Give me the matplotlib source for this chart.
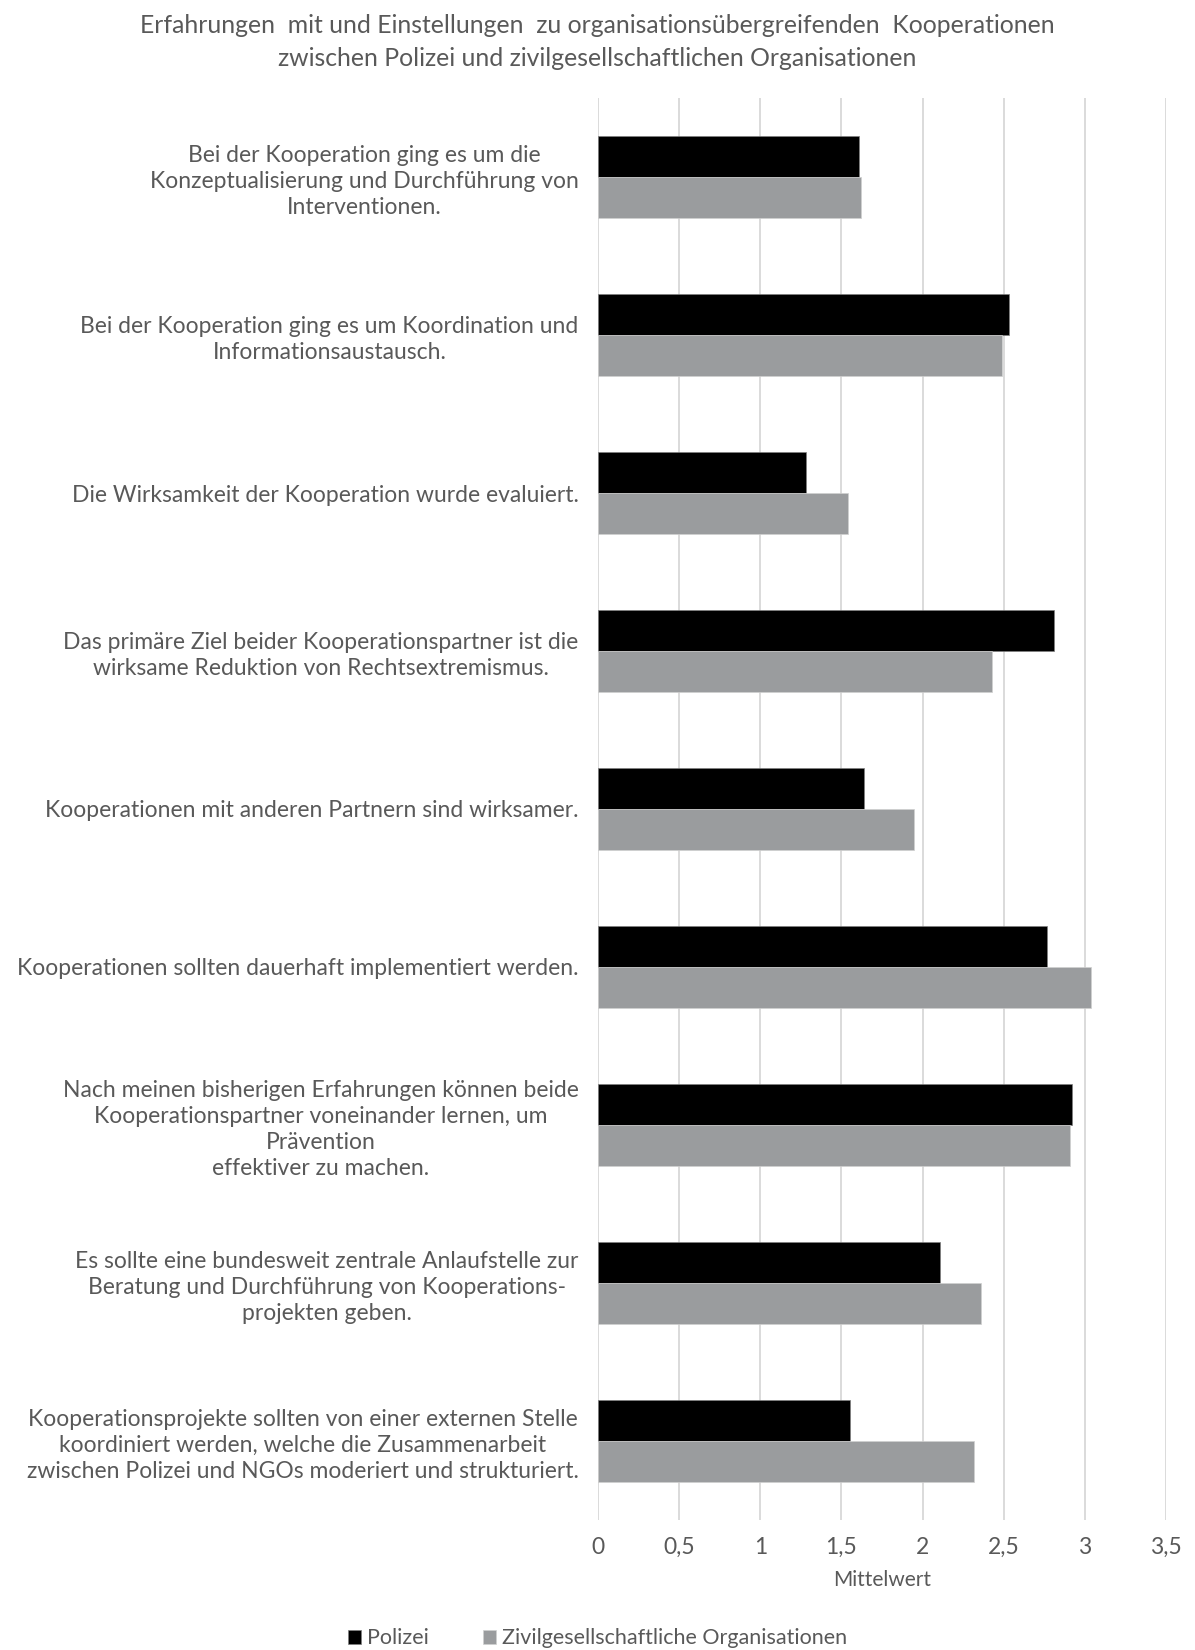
import matplotlib
matplotlib.use('Agg')
import matplotlib.pyplot as plt
import numpy as np

plt.rcParams['font.family'] = ['Lato', 'DejaVu Sans']
plt.rcParams['font.weight'] = 'normal'

categories = [
    'Bei der Kooperation ging es um die\nKonzeptualisierung und Durchführung von\nInterventionen.',
    'Bei der Kooperation ging es um Koordination und\nInformationsaustausch.',
    'Die Wirksamkeit der Kooperation wurde evaluiert.',
    'Das primäre Ziel beider Kooperationspartner ist die\nwirksame Reduktion von Rechtsextremismus.',
    'Kooperationen mit anderen Partnern sind wirksamer.',
    'Kooperationen sollten dauerhaft implementiert werden.',
    'Nach meinen bisherigen Erfahrungen können beide\nKooperationspartner voneinander lernen, um\nPrävention\neffektiver zu machen.',
    'Es sollte eine bundesweit zentrale Anlaufstelle zur\nBeratung und Durchführung von Kooperations-\nprojekten geben.',
    'Kooperationsprojekte sollten von einer externen Stelle\nkoordiniert werden, welche die Zusammenarbeit\nzwischen Polizei und NGOs moderiert und strukturiert.',
]
polizei = [1.61, 2.53, 1.28, 2.81, 1.64, 2.77, 2.92, 2.11, 1.55]
zivil = [1.62, 2.49, 1.54, 2.43, 1.95, 3.04, 2.91, 2.36, 2.32]
xticks = [0, 0.5, 1, 1.5, 2, 2.5, 3, 3.5]
xticklabels = ['0', '0,5', '1', '1,5', '2', '2,5', '3', '3,5']

txt = '#595959'
fig = plt.figure(figsize=(11.95, 16.5), dpi=100)
ax = fig.add_axes([0.5004, 0.0788, 0.4753, 0.8618])

y = np.arange(len(categories))
h = 0.26
ax.barh(y - h / 2, polizei, height=h, color='#000000', edgecolor='#7f7f7f', linewidth=0.5, label='Polizei', zorder=3)
ax.barh(y + h / 2, zivil, height=h, color='#9a9c9e', edgecolor='#d0d0d0', linewidth=0.5,
        label='Zivilgesellschaftliche Organisationen', zorder=3)

ax.set_ylim(len(categories) - 0.5, -0.5)
ax.set_xlim(0, 3.5)
ax.set_xticks(xticks)
ax.set_xticklabels(xticklabels)
ax.set_yticks(y)
ax.set_yticklabels(categories, ha='right', multialignment='center')
ax.tick_params(axis='y', length=0, pad=14, labelsize=16.5, labelcolor=txt)
ax.tick_params(axis='x', length=0, pad=12, labelsize=16.5, labelcolor=txt)
for lab in ax.get_yticklabels():
    lab.set_linespacing(1.3)
ax.grid(axis='x', color='#d4d4d4', linewidth=1.2, zorder=0)
for s in ax.spines.values():
    s.set_visible(False)
ax.set_xlabel('Mittelwert', fontsize=15, color=txt, labelpad=9)

fig.text(0.5, 0.9848, 'Erfahrungen  mit und Einstellungen  zu organisationsübergreifenden  Kooperationen',
         ha='center', va='center', fontsize=17.8, color=txt)
fig.text(0.5, 0.9643, 'zwischen Polizei und zivilgesellschaftlichen Organisationen',
         ha='center', va='center', fontsize=17.8, color=txt)

fig.legend(loc='center', bbox_to_anchor=(0.5, 0.007), ncol=2, frameon=False, fontsize=15.5,
           labelcolor=txt, handlelength=0.6, handleheight=0.6, handletextpad=0.3, columnspacing=2.5)

fig.savefig('out.png', dpi=100)
